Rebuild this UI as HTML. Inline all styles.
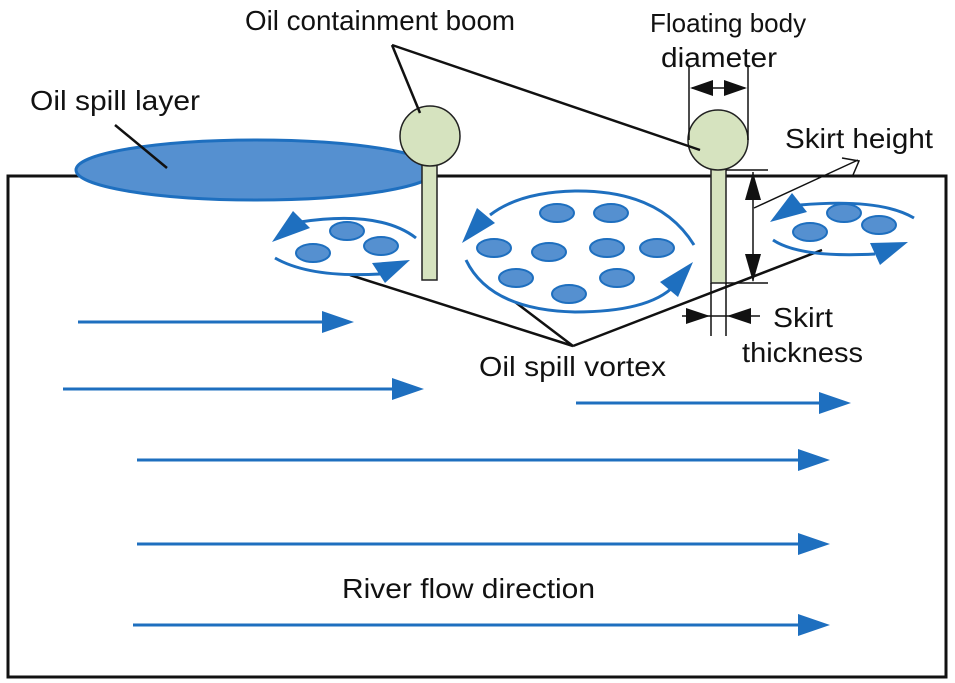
<!DOCTYPE html>
<html><head><meta charset="utf-8"><style>
html,body{margin:0;padding:0;background:#fff}
svg{display:block}
text{font-family:"Liberation Sans",Arial,sans-serif;font-size:28px;fill:#111}
</style></head><body>
<svg width="955" height="683" viewBox="0 0 955 683" xmlns="http://www.w3.org/2000/svg">
<rect x="8" y="176" width="938" height="501" fill="none" stroke="#111" stroke-width="3"/>
<ellipse cx="256" cy="170" rx="180" ry="30" fill="#5590d0" stroke="#1e6fbf" stroke-width="3"/>
<rect x="422" y="165" width="15" height="115" fill="#d6e3bf" stroke="#222" stroke-width="1.5"/>
<circle cx="430" cy="136" r="30" fill="#d6e3bf" stroke="#222" stroke-width="1.5"/>
<rect x="711" y="169" width="15" height="114" fill="#d6e3bf" stroke="#222" stroke-width="1.5"/>
<circle cx="718" cy="140" r="30" fill="#d6e3bf" stroke="#222" stroke-width="1.5"/>
<g stroke="#111" stroke-width="2.5" fill="none">
<line x1="115" y1="125" x2="167" y2="168"/>
<line x1="392" y1="45" x2="420" y2="113"/>
<line x1="392" y1="45" x2="700" y2="150"/>
<polyline points="350,275 573,346 515,302"/>
<line x1="573" y1="346" x2="822" y2="250"/>
</g>
<g stroke="#111" stroke-width="1.5" fill="none">
<line x1="689" y1="65" x2="689" y2="140"/>
<line x1="748" y1="65" x2="748" y2="140"/>
<line x1="692" y1="88" x2="745" y2="88"/>
<line x1="726" y1="170" x2="768" y2="170"/>
<line x1="726" y1="283" x2="768" y2="283"/>
<line x1="753" y1="172" x2="753" y2="281"/>
<line x1="711" y1="283" x2="711" y2="336"/>
<line x1="726" y1="283" x2="726" y2="336"/>
<line x1="682" y1="316" x2="760" y2="316"/>
<polyline points="754,208 858,160"/>
<polyline points="842,158 859,161 853,175"/>
</g>
<g fill="#111">
<path d="M690,88 L713,80 L713,96z"/><path d="M747,88 L724,80 L724,96z"/>
<path d="M753,172 L745,200 L761,200z"/><path d="M753,282 L745,254 L761,254z"/>
<path d="M710,316 L686,308 L686,324z"/><path d="M727,316 L751,308 L751,324z"/>
</g>
<g fill="#5590d0" stroke="#1e6fbf" stroke-width="2">
<ellipse cx="347" cy="231" rx="17" ry="9"/><ellipse cx="313" cy="253" rx="17" ry="9"/><ellipse cx="381" cy="246" rx="17" ry="9"/>
<ellipse cx="557" cy="213" rx="17" ry="9"/><ellipse cx="611" cy="213" rx="17" ry="9"/><ellipse cx="494" cy="248" rx="17" ry="9"/>
<ellipse cx="549" cy="252" rx="17" ry="9"/><ellipse cx="607" cy="248" rx="17" ry="9"/><ellipse cx="657" cy="248" rx="17" ry="9"/>
<ellipse cx="516" cy="278" rx="17" ry="9"/><ellipse cx="569" cy="294" rx="17" ry="9"/><ellipse cx="617" cy="278" rx="17" ry="9"/>
<ellipse cx="844" cy="213" rx="17" ry="9"/><ellipse cx="810" cy="232" rx="17" ry="9"/><ellipse cx="879" cy="225" rx="17" ry="9"/>
</g>
<g fill="none" stroke="#1e6fbf" stroke-width="3">
<path d="M416,238 Q380,210 300,222"/>
<path d="M275,258 Q310,278 380,274"/>
<path d="M694,245 Q660,190 575,191 Q520,192 490,215"/>
<path d="M466,260 Q490,310 575,312 Q650,312 675,285"/>
<path d="M914,218 Q880,198 800,205"/>
<path d="M773,240 Q800,258 875,254"/>
</g>
<g fill="#1e6fbf">
<path d="M272,242 L293,211 L310,228z"/>
<path d="M410,260 L372,263 L385,283z"/>
<path d="M462,243 L477,208 L495,223z"/>
<path d="M693,262 L660,282 L678,297z"/>
<path d="M770,222 L792,193 L807,212z"/>
<path d="M908,242 L870,243 L880,265z"/>
</g>
<g stroke="#1e6fbf" stroke-width="3">
<line x1="78" y1="322" x2="325" y2="322"/>
<line x1="63" y1="389" x2="395" y2="389"/>
<line x1="576" y1="403" x2="820" y2="403"/>
<line x1="137" y1="460" x2="800" y2="460"/>
<line x1="137" y1="544" x2="800" y2="544"/>
<line x1="133" y1="625" x2="800" y2="625"/>
</g>
<g fill="#1e6fbf">
<path d="M354,322 L322,311 L322,333z"/>
<path d="M424,389 L392,378 L392,400z"/>
<path d="M851,403 L819,392 L819,414z"/>
<path d="M830,460 L798,449 L798,471z"/>
<path d="M830,544 L798,533 L798,555z"/>
<path d="M830,625 L798,614 L798,636z"/>
</g>
<text x="245" y="30" textLength="270" lengthAdjust="spacingAndGlyphs">Oil containment boom</text>
<text x="30" y="110" textLength="170" lengthAdjust="spacingAndGlyphs">Oil spill layer</text>
<text x="650" y="32" style="font-size:26px">Floating body</text>
<text x="661" y="67" textLength="116" lengthAdjust="spacingAndGlyphs">diameter</text>
<text x="785" y="148" textLength="148" lengthAdjust="spacingAndGlyphs">Skirt height</text>
<text x="773" y="327" textLength="60" lengthAdjust="spacingAndGlyphs">Skirt</text>
<text x="742" y="362" textLength="121" lengthAdjust="spacingAndGlyphs">thickness</text>
<text x="479" y="376" textLength="187" lengthAdjust="spacingAndGlyphs">Oil spill vortex</text>
<text x="342" y="598" textLength="253" lengthAdjust="spacingAndGlyphs">River flow direction</text>
</svg>
</body></html>
